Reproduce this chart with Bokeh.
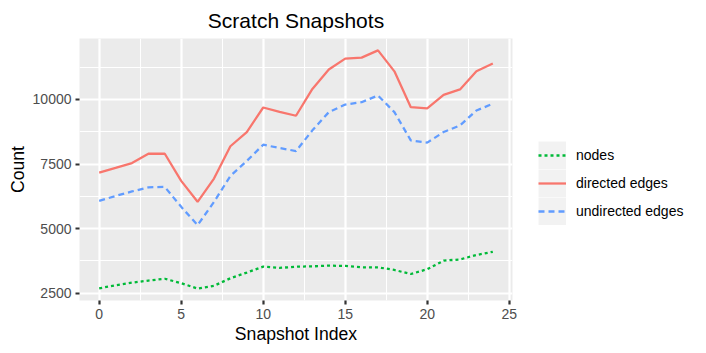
from bokeh.plotting import figure
from bokeh.layouts import row
from bokeh.models import FixedTicker, Legend, LegendItem, Range1d, ColumnDataSource
from bokeh.embed import file_html
from bokeh.resources import INLINE

# ---- data ----
snapshot = list(range(25))
nodes = [2690, 2810, 2910, 2990, 3060, 2890, 2680, 2790, 3080, 3300, 3530, 3480, 3530,
         3540, 3570, 3555, 3505, 3505, 3400, 3245, 3430, 3760, 3810, 3980, 4105]
directed = [7170, 7350, 7540, 7900, 7900, 6850, 6040, 6940, 8190, 8740, 9690, 9520, 9370,
            10410, 11160, 11580, 11620, 11900, 11090, 9700, 9660, 10180, 10390, 11090, 11390]
undirected = [6075, 6265, 6440, 6600, 6615, 5845, 5135, 6035, 7040, 7620, 8250, 8120, 8005,
              8805, 9510, 9805, 9895, 10155, 9510, 8415, 8330, 8740, 8995, 9575, 9835]
series_labels = ["nodes", "directed edges", "undirected edges"]
x_ticks = [0, 5, 10, 15, 20, 25]
x_minor = [2.5, 7.5, 12.5, 17.5, 22.5]
y_ticks = [2500, 5000, 7500, 10000]
y_minor = [3750, 6250, 8750, 11250]

colors = ["#00BA38", "#F8766D", "#619CFF"]
dashes = ["3 3", "solid", "6 4"]
FONT = "Liberation Sans"

src = ColumnDataSource(dict(x=snapshot, nodes=nodes, directed=directed, undirected=undirected))

# ggplot-style 5% expansion
xmin, xmax = min(snapshot), max(snapshot)
allv = nodes + directed + undirected
ymin, ymax = min(allv), max(allv)
xpad = 0.05 * (xmax - xmin)
ypad = 0.05 * (ymax - ymin)

p = figure(width=520, height=353, output_backend="svg", toolbar_location=None,
           x_range=Range1d(xmin - xpad, xmax + xpad), y_range=Range1d(ymin - ypad, ymax + ypad),
           min_border_left=79, min_border_right=8, min_border_top=38, min_border_bottom=53,
           background_fill_color="#EBEBEB", border_fill_color="white", outline_line_color=None)

p.title.text = "Scratch Snapshots"
p.title.align = "center"
p.title.text_font = FONT
p.title.text_font_size = "21px"
p.title.text_font_style = "normal"
p.title.text_color = "black"
p.title.standoff = 13

for grid, maj, mnr in ((p.xgrid, x_ticks, x_minor), (p.ygrid, y_ticks, y_minor)):
    grid.ticker = FixedTicker(ticks=maj, minor_ticks=mnr)
    grid.grid_line_color = "white"
    grid.grid_line_width = 2.2
    grid.minor_grid_line_color = "white"
    grid.minor_grid_line_width = 1.1

p.xaxis.ticker = FixedTicker(ticks=x_ticks, minor_ticks=x_minor)
p.yaxis.ticker = FixedTicker(ticks=y_ticks, minor_ticks=y_minor)
p.xaxis.axis_label = "Snapshot Index"
p.yaxis.axis_label = "Count"
for ax in (p.xaxis, p.yaxis):
    ax.axis_line_color = None
    ax.minor_tick_line_color = None
    ax.major_tick_line_color = "#333333"
    ax.major_tick_line_width = 2.2
    ax.major_tick_out = 4
    ax.major_tick_in = 0
    ax.major_label_standoff = 4
    ax.major_label_text_font = FONT
    ax.major_label_text_font_size = "14px"
    ax.major_label_text_color = "#4D4D4D"
    ax.axis_label_text_font = FONT
    ax.axis_label_text_font_size = "17.6px"
    ax.axis_label_text_font_style = "normal"
    ax.axis_label_text_color = "black"
    ax.axis_label_standoff = 2

vals = ["nodes", "directed", "undirected"]
for col, c, d in zip(vals, colors, dashes):
    p.line(x="x", y=col, source=src, line_color=c, line_width=2.27, line_dash=d)

# ---- legend panel (separate figure, same series/styles; its view range lies
#      outside the data so only the legend keys are visible) ----
lg = figure(width=186, height=353, output_backend="svg", toolbar_location=None,
            x_range=Range1d(-1000, -999), y_range=Range1d(-1000, -999),
            min_border=0, outline_line_color=None, border_fill_color="white",
            background_fill_color="white")
lg.axis.visible = False
lg.grid.visible = False
bg = lg.line(x="x", y="nodes", source=src, line_color="#F2F2F2", line_width=28, line_cap="butt")
keys = [lg.line(x="x", y=col, source=src, line_color=c, line_width=2.27, line_dash=d)
        for col, c, d in zip(vals, colors, dashes)]
leg = Legend(items=[LegendItem(label=l, renderers=[bg, r]) for l, r in zip(series_labels, keys)],
             location=(18, 75), glyph_width=28, glyph_height=28, spacing=0, padding=0, margin=0,
             label_standoff=10, label_text_font=FONT, label_text_font_size="14px",
             label_text_color="black", label_height=28,
             border_line_color=None, background_fill_alpha=0)
lg.add_layout(leg)

layout = row(p, lg, spacing=0)
open("out.html", "w").write(file_html(layout, INLINE))
